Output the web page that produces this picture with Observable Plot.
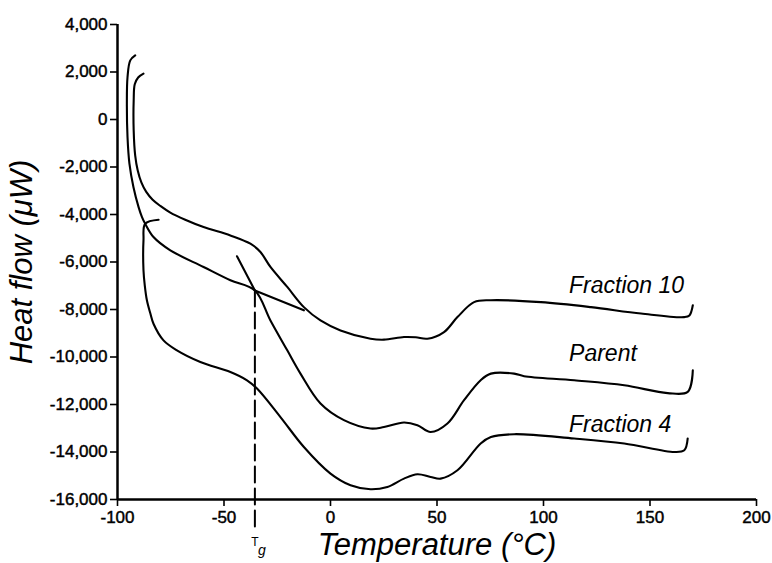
<!DOCTYPE html>
<html>
<head>
<meta charset="utf-8">
<script src="https://cdn.jsdelivr.net/npm/d3@7"></script>
<script src="https://cdn.jsdelivr.net/npm/@observablehq/plot@0.6"></script>
<style>
  html, body { margin: 0; padding: 0; background: #fff; }
  #chart { width: 772px; height: 563px; }
  #chart g[aria-label$="tick label"] text { stroke: #000; stroke-width: 0.45px; }
</style>
</head>
<body>
<div id="chart"></div>
<script>
// ---- Data ----
const xTicks = [-100, -50, 0, 50, 100, 150, 200];
const yTicks = [4000, 2000, 0, -2000, -4000, -6000, -8000, -10000, -12000, -14000, -16000];

// Fraction 10 (temperature °C, heat flow µW)
const fraction10T = [-87.8, -90.3, -91.9, -92.4, -92.4, -91.7, -90.5, -88.8, -86.5, -83.5, -79.9, -75.2, -68.2, -59.6, -47.0, -37.6, -32.9, -28.2, -20.3, -12.5, -4.7, 4.7, 18.8, 25.1, 34.5, 40.0, 45.5, 53.3, 59.6, 67.4, 75.3, 98.8, 122.3, 145.8, 166.1, 168.5, 170.1];
const fraction10Q = [1930, 1770, 1480, 800, -460, -1510, -2150, -2650, -3050, -3380, -3640, -3920, -4220, -4530, -4880, -5230, -5580, -6210, -7050, -7900, -8460, -8880, -9230, -9270, -9160, -9170, -9230, -8950, -8320, -7690, -7610, -7690, -7900, -8170, -8320, -8250, -7820];

// Parent
const parentT = [-91.7, -94.0, -95.3, -95.6, -95.3, -94.4, -92.5, -90.1, -88.5, -87.0, -83.1, -75.2, -59.6, -47.0, -35.5, -28.2, -20.3, -14.1, -4.7, 6.3, 18.8, 25.1, 34.5, 40.8, 47.0, 54.9, 62.7, 70.5, 75.3, 86.2, 90.9, 114.4, 137.9, 158.3, 167.7, 170.1];
const parentQ = [2700, 2490, 1780, 660, -740, -1860, -2850, -3690, -4110, -4390, -4950, -5510, -6210, -6770, -7200, -8460, -9720, -10700, -11960, -12660, -13010, -12950, -12760, -12870, -13160, -12800, -11820, -10980, -10700, -10700, -10810, -10980, -11190, -11520, -11470, -10560];

// Fraction 4
const fraction4T = [-80.7, -87.0, -87.8, -87.8, -87.2, -86.2, -84.6, -83.1, -78.4, -72.1, -61.1, -47.0, -39.2, -34.5, -23.5, -12.5, 0.0, 9.4, 18.8, 26.7, 34.5, 40.8, 47.0, 51.7, 59.6, 70.5, 75.3, 86.2, 114.4, 137.9, 161.4, 166.1, 167.7];
const fraction4Q = [-4220, -4390, -5090, -6350, -6980, -7610, -8160, -8600, -9300, -9720, -10210, -10630, -10980, -11330, -12530, -13790, -14910, -15400, -15570, -15470, -15120, -14940, -15050, -15120, -14770, -13640, -13370, -13250, -13430, -13640, -14000, -13930, -13430];

// Glass-transition construction (tangent lines) and Tg
const tgT = -35.5;
const baselineTangentT = [-35.5, -12.5];
const baselineTangentQ = [-7200, -8035];
const steepTangentT = [-43.9, -35.5];
const steepTangentQ = [-5760, -7200];
const tgDropQ = [-7200, -17300];

// Curve labels
const labelNames = ["Fraction 10", "Parent", "Fraction 4"];
const labelT = [112, 112, 112];
const labelQ = [-7000, -9850, -12830];

// ---- Build tables ----
const zip = (T, Q) => T.map((t, i) => ({T: t, Q: Q[i]}));
const f10 = zip(fraction10T, fraction10Q);
const par = zip(parentT, parentQ);
const f4 = zip(fraction4T, fraction4Q);
const baseTan = zip(baselineTangentT, baselineTangentQ);
const steepTan = zip(steepTangentT, steepTangentQ);
const tgLine = tgDropQ.map(q => ({T: tgT, Q: q}));
const labels = labelNames.map((n, i) => ({name: n, T: labelT[i], Q: labelQ[i]}));

const font = "'Liberation Sans', Arial, Helvetica, sans-serif";
const lw = 2.1;

const chart = Plot.plot({
  width: 772,
  height: 563,
  marginLeft: 117,
  marginRight: 16,
  marginTop: 24,
  marginBottom: 64,
  style: {fontFamily: font, fontSize: "17px", color: "#000", background: "#fff", overflow: "visible"},
  x: {domain: [-100, 200], label: null},
  y: {domain: [-16000, 4000], label: null},
  marks: [
    Plot.axisX(xTicks, {tickSize: 7, tickPadding: 4, tickFormat: d => String(d), fontSize: 17, strokeWidth: 1.6, label: null}),
    Plot.axisY(yTicks, {tickSize: 7, tickPadding: 3, tickFormat: d => d.toLocaleString("en-US"), fontSize: 17, strokeWidth: 1.6, label: null}),
    Plot.ruleX([-100], {stroke: "#000", strokeWidth: 2.5}),
    Plot.ruleY([-16000], {stroke: "#000", strokeWidth: 2.5}),
    Plot.line(tgLine, {x: "T", y: "Q", stroke: "#000", strokeWidth: 2, strokeDasharray: "16,6"}),
    Plot.line(baseTan, {x: "T", y: "Q", stroke: "#000", strokeWidth: lw}),
    Plot.line(steepTan, {x: "T", y: "Q", stroke: "#000", strokeWidth: lw}),
    Plot.line(f10, {x: "T", y: "Q", stroke: "#000", strokeWidth: lw, curve: "catmull-rom"}),
    Plot.line(par, {x: "T", y: "Q", stroke: "#000", strokeWidth: lw, curve: "catmull-rom"}),
    Plot.line(f4, {x: "T", y: "Q", stroke: "#000", strokeWidth: lw, curve: "catmull-rom"}),
    Plot.text(labels, {x: "T", y: "Q", text: "name", textAnchor: "start", lineAnchor: "middle", fontStyle: "italic", fontSize: 23, fill: "#000"}),
    Plot.text([{T: tgT, Q: -16000}], {x: "T", y: "Q", text: () => "T", textAnchor: "middle", lineAnchor: "bottom", dy: 46, fontSize: 12, fill: "#000"}),
    Plot.text([{T: tgT, Q: -16000}], {x: "T", y: "Q", text: () => "g", textAnchor: "middle", lineAnchor: "bottom", dx: 7, dy: 55, fontSize: 14, fontStyle: "italic", fill: "#000"}),
    Plot.text(["Temperature (°C)"], {frameAnchor: "bottom", text: d => d, textAnchor: "middle", lineAnchor: "bottom", dy: 55, fontSize: 31, fontStyle: "italic", fill: "#000"}),
    Plot.text(["Heat flow (μW)"], {frameAnchor: "left", text: d => d, rotate: -90, textAnchor: "middle", lineAnchor: "middle", dx: -95, fontSize: 31, fontStyle: "italic", fill: "#000"})
  ]
});
document.getElementById("chart").appendChild(chart);
</script>
</body>
</html>
